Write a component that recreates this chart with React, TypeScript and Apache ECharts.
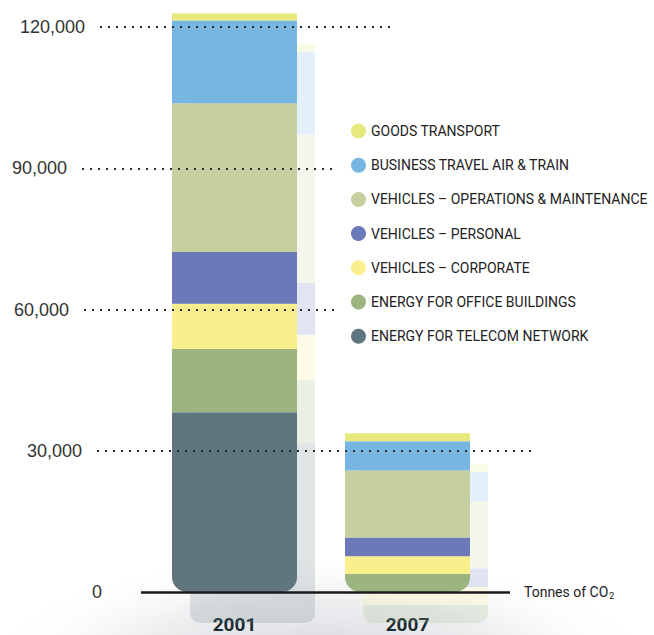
import React, { useEffect, useRef } from 'react';
import * as echarts from 'echarts';

// ---- data ----
const years = ['2001', '2007'];
const seriesNames = [
  'ENERGY FOR TELECOM NETWORK',
  'ENERGY FOR OFFICE BUILDINGS',
  'VEHICLES – CORPORATE',
  'VEHICLES – PERSONAL',
  'VEHICLES – OPERATIONS & MAINTENANCE',
  'BUSINESS TRAVEL AIR & TRAIN',
  'GOODS TRANSPORT',
];
const telecomNetwork = [38200, 0];
const officeBuildings = [13400, 3800];
const vehiclesCorporate = [9600, 3800];
const vehiclesPersonal = [11000, 4000];
const vehiclesOpsMaint = [31600, 14200];
const businessTravel = [17600, 6200];
const goodsTransport = [1500, 1700];
const tickValues = [0, 30000, 60000, 90000, 120000];
const tickLabels = ['0', '30,000', '60,000', '90,000', '120,000'];

// ---- styles / layout ----
const colors = ['#60767f', '#9cb580', '#f9f08d', '#6b79b8', '#c6cfa0', '#77b5e2', '#e8e97d'];
const lineSpans: number[][] = [[141, 510], [97, 535], [84, 336], [82, 336], [100, 395]];
const NARROW = "Roboto, 'Liberation Sans', sans-serif";
const REG = "'Liberation Sans', Arial, sans-serif";

export default function App() {
  const ref = useRef<HTMLDivElement>(null);
  useEffect(() => {
    const chart = echarts.init(ref.current!, null, { renderer: 'svg' });
    const values = [
      telecomNetwork,
      officeBuildings,
      vehiclesCorporate,
      vehiclesPersonal,
      vehiclesOpsMaint,
      businessTravel,
      goodsTransport,
    ];
    // bottom-most non-zero segment per category gets rounded bottom corners
    const bottomIdx = years.map((_, c) => values.findIndex((s) => s[c] > 0));

    const yMax = 125000;
    const mainGrid = { left: 148, width: 346, top: 3.46, bottom: 43 };
    const shadowGrid = { left: 166, width: 346, top: 34.46, bottom: 12 };

    const dotted = { color: '#2a2a2a', width: 2, type: [2, 6] as any, cap: 'butt' as any };

    const markLineData: any[] = [];
    for (let i = 1; i < tickValues.length; i++) {
      markLineData.push([
        {
          x: lineSpans[i][0],
          yAxis: tickValues[i],
          lineStyle: dotted,
          label: { formatter: tickLabels[i] },
        },
        { x: lineSpans[i][1], yAxis: tickValues[i] },
      ]);
    }
    markLineData.push([
      {
        x: lineSpans[0][0],
        yAxis: tickValues[0],
        lineStyle: { color: '#1a1a1a', width: 2.5, type: 'solid' },
        label: { formatter: tickLabels[0], distance: 39, padding: [0, 0, 0, 0] },
      },
      { x: lineSpans[0][1], yAxis: tickValues[0] },
    ]);
    markLineData.push([
      {
        x: lineSpans[0][0],
        yAxis: tickValues[0],
        lineStyle: { color: 'rgba(0,0,0,0)', width: 0, type: 'solid' },
        label: {
          position: 'end',
          distance: 14,
          padding: [0, 0, 0, 0],
          formatter: 'Tonnes of CO{sub|2}',
          fontFamily: NARROW,
          fontSize: 14,
          color: '#222',
          rich: {
            sub: { fontSize: 9, fontFamily: NARROW, color: '#222', padding: [8, 0, 0, 1] },
          },
        },
      },
      { x: lineSpans[0][1], yAxis: tickValues[0] },
    ]);

    const mainSeries = seriesNames.map((name, si) => ({
      name,
      type: 'bar',
      stack: 'main',
      xAxisIndex: 0,
      yAxisIndex: 0,
      barWidth: 125,
      z: 3,
      itemStyle: { color: colors[si] },
      data: values[si].map((v, c) => ({
        value: v,
        itemStyle: bottomIdx[c] === si ? { borderRadius: [0, 0, 15, 15] } : undefined,
      })),
      ...(si === 0
        ? {
            markLine: {
              silent: true,
              symbol: 'none',
              z: 6,
              label: {
                position: 'start',
                distance: 15,
                color: '#333',
                fontSize: 18,
                fontFamily: REG,
                padding: [0, 0, 6, 0],
              },
              data: markLineData,
            },
          }
        : {}),
    }));

    const shadowSeries = seriesNames.map((name, si) => ({
      name: 'shadow ' + name,
      type: 'bar',
      stack: 'shadow',
      xAxisIndex: 1,
      yAxisIndex: 1,
      barWidth: 125,
      z: 1,
      silent: true,
      itemStyle: { color: colors[si], opacity: 0.2 },
      data: values[si].map((v, c) => ({
        value: v,
        itemStyle: bottomIdx[c] === si ? { borderRadius: [0, 0, 10, 10] } : undefined,
      })),
    }));

    chart.setOption({
      animation: false,
      backgroundColor: '#ffffff',
      graphic: {
        elements: [
          {
            type: 'circle',
            x: 320,
            y: 660,
            scaleX: 2.8,
            scaleY: 0.9,
            silent: true,
            z: -10,
            shape: { cx: 0, cy: 0, r: 120 },
            style: {
              fill: new echarts.graphic.RadialGradient(0.5, 0.5, 0.5, [
                { offset: 0, color: 'rgba(212,214,218,1)' },
                { offset: 0.55, color: 'rgba(230,231,234,0.7)' },
                { offset: 1, color: 'rgba(255,255,255,0)' },
              ]),
            },
          },
        ],
      },
      legend: {
        orient: 'vertical',
        left: 346,
        top: 118.5,
        itemWidth: 15,
        itemHeight: 15,
        itemGap: 19.2,
        icon: 'circle',
        selectedMode: false,
        data: seriesNames.slice().reverse(),
        textStyle: {
          fontFamily: NARROW,
          fontSize: 14,
          color: '#222',
          padding: [0, 0, 0, 0],
        },
      },
      grid: [mainGrid, shadowGrid],
      xAxis: [
        {
          type: 'category',
          gridIndex: 0,
          data: years,
          axisLine: { show: false },
          axisTick: { show: false },
          axisLabel: {
            margin: 23,
            fontSize: 19,
            fontWeight: 'bold',
            fontFamily: NARROW,
            color: '#1b2a33',
          },
        },
        { type: 'category', gridIndex: 1, data: years, show: false },
      ],
      yAxis: [
        { type: 'value', gridIndex: 0, min: 0, max: yMax, show: false, splitLine: { show: false } },
        { type: 'value', gridIndex: 1, min: 0, max: yMax, show: false, splitLine: { show: false } },
      ],
      series: [...shadowSeries, ...mainSeries],
    });
    return () => chart.dispose();
  }, []);
  return (
    <div
      ref={ref}
      style={{ position: 'absolute', left: 0, top: 0, width: 654, height: 635 }}
    />
  );
}
